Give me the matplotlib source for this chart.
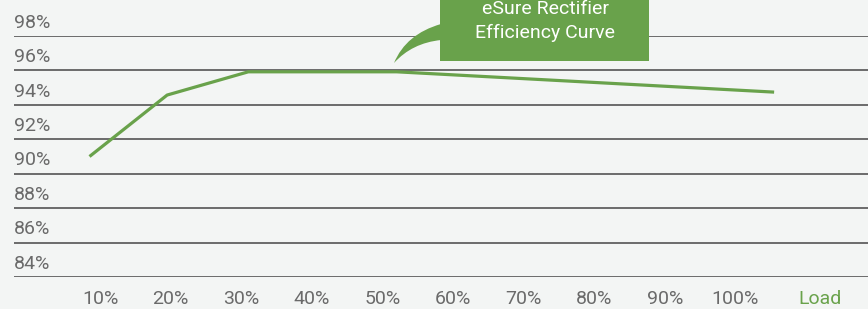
import numpy as np
import matplotlib.pyplot as plt
from matplotlib.path import Path
from matplotlib.patches import PathPatch, Rectangle

# valeurs
load = [8.5, 19.5, 31, 52, 105.5]
efficiency = [91.0, 94.57, 95.92, 95.92, 94.74]
y_ticks = [84, 86, 88, 90, 92, 94, 96, 98]
x_ticks = [10, 20, 30, 40, 50, 60, 70, 80, 90, 100]
x_labels = ['10%', '20%', '30%', '40%', '50%', '60%', '70%', '80%', '90%', '100%']
callout_text = "eSure Rectifier\nEfficiency Curve"

bg = '#f3f5f4'
green = '#69a24b'
grey_txt = '#6a6a6a'
grid_col = '#606060'

W, H = 868, 309
plt.rcParams['font.family'] = ['Roboto', 'DejaVu Sans']

fig = plt.figure(figsize=(W / 100, H / 100), dpi=100, facecolor=bg)
ax = fig.add_axes([14 / W, 1 - 277 / H, 854 / W, (277 - 36) / H])
ax.set_facecolor(bg)
ax.set_xlim(-2.2, 118.8)
ax.set_ylim(84, 98)

# lignes horizontales + labels au-dessus
for v in y_ticks:
    ax.axhline(v, color=grid_col, lw=1.3, zorder=1)
    ax.text(0, v + 0.25, f"{v}%", transform=ax.get_yaxis_transform(),
            ha='left', va='bottom', fontsize=14, color=grey_txt)

ax.plot(load, efficiency, color=green, lw=2.3, zorder=3, solid_capstyle='butt')

for x, lab in zip(x_ticks, x_labels):
    ax.text(x, -0.09, lab, transform=ax.get_xaxis_transform(),
            ha='center', va='center', fontsize=14, color=grey_txt)
ax.text(112, -0.09, 'Load', transform=ax.get_xaxis_transform(),
        ha='center', va='center', fontsize=14, color=green)

for s in ax.spines.values():
    s.set_visible(False)
ax.set_xticks([])
ax.set_yticks([])

# bulle de légende (coordonnées en pixels -> fraction de figure)
def px(x, y):
    return (x / W, 1 - y / H)

box_l, box_r, box_b = 440, 649, 61
fig.patches.append(Rectangle(px(box_l, box_b), (box_r - box_l) / W, box_b / H + 0.01,
                             transform=fig.transFigure, facecolor=green, edgecolor='none', zorder=5))
verts = [px(441, 24), px(406, 34), px(394, 63), px(412, 43), px(441, 40), px(441, 24)]
codes = [Path.MOVETO, Path.CURVE3, Path.CURVE3, Path.CURVE3, Path.CURVE3, Path.CLOSEPOLY]
fig.patches.append(PathPatch(Path(verts, codes), transform=fig.transFigure,
                             facecolor=green, edgecolor='none', zorder=5))
fig.text(545 / W, 1 - 21 / H, callout_text, ha='center', va='center', fontsize=14,
         color='white', linespacing=1.35, zorder=6)

fig.savefig('out.png', dpi=100, facecolor=bg)
